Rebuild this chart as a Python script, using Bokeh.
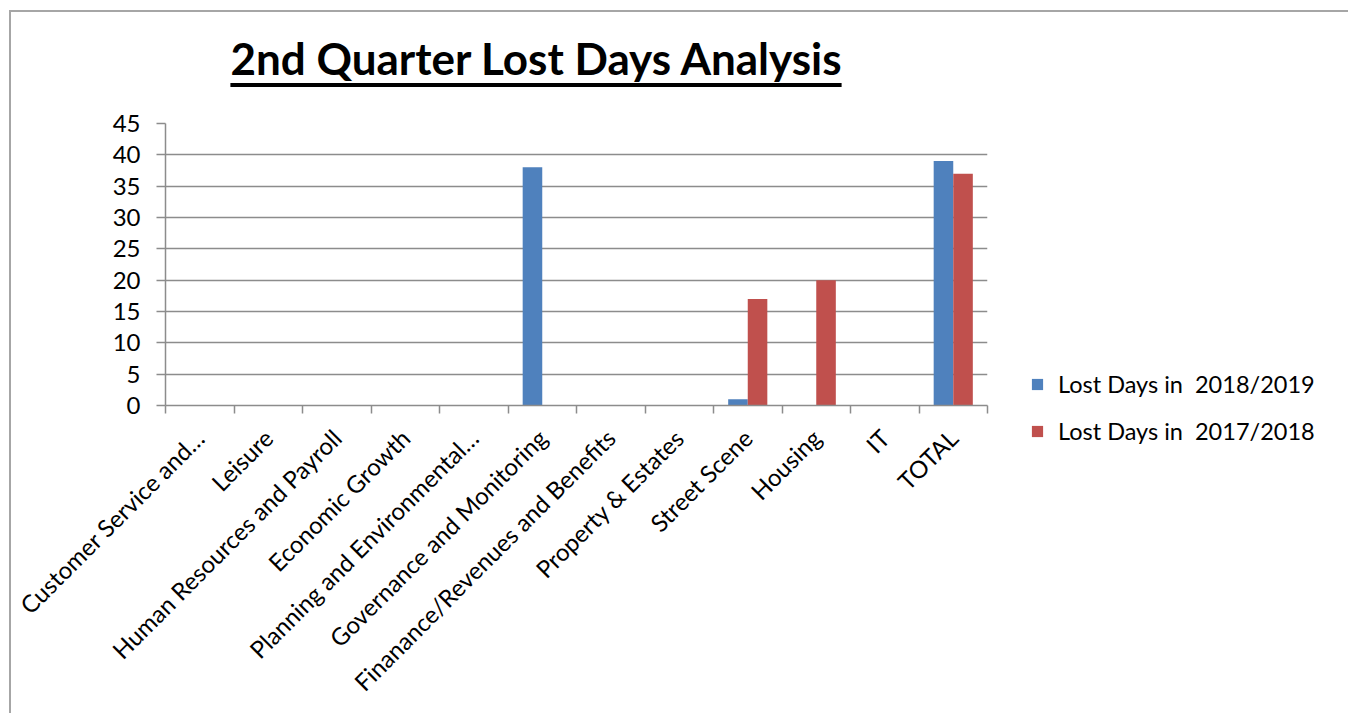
from math import pi
from bokeh.plotting import figure
from bokeh.models import (ColumnDataSource, Range1d, LinearAxis, FixedTicker, Legend, LegendItem, Div)
from bokeh.transform import dodge
from bokeh.layouts import column
from bokeh.embed import file_html
from bokeh.resources import INLINE

categories = ["Customer Service and\u2026", "Leisure", "Human Resources and Payroll",
              "Economic Growth", "Planning and Environmental\u2026", "Governance and Monitoring",
              "Finanance/Revenues and Benefits", "Property & Estates", "Street Scene",
              "Housing", "IT", "TOTAL"]
lost_2018_2019 = [0, 0, 0, 0, 0, 38, 0, 0, 1, 0, 0, 39]
lost_2017_2018 = [0, 0, 0, 0, 0, 0, 0, 0, 17, 20, 0, 37]
series_names = ["Lost Days in  2018/2019", "Lost Days in  2017/2018"]
y_ticks = [0, 5, 10, 15, 20, 25, 30, 35, 40, 45]
title_text = "2nd Quarter Lost Days Analysis"

FONT = "Lato"
GRAY = "#8c8c8c"
BLUE = "#4F81BD"
RED = "#C0504D"
FS = "24px"

n = len(categories)
centers = [i + 0.5 for i in range(n)]
src = ColumnDataSource(dict(x=centers, cat=categories, a=lost_2018_2019, b=lost_2017_2018))

p = figure(x_range=Range1d(0, n), y_range=Range1d(0, 45),
           frame_width=822, frame_height=282, output_backend="svg", toolbar_location=None,
           x_axis_location=None, min_border_left=154, min_border_right=30,
           min_border_top=16, min_border_bottom=312)
p.outline_line_color = None
p.background_fill_color = "white"
p.border_fill_color = "white"
p.xgrid.visible = False
p.ygrid.grid_line_color = GRAY
p.ygrid.grid_line_width = 1.5
p.ygrid.ticker = FixedTicker(ticks=y_ticks)

bw = 1 / 3.5
r1 = p.vbar(x=dodge("x", -bw / 2), top="a", width=bw, source=src,
            fill_color=BLUE, line_color=None)
r2 = p.vbar(x=dodge("x", bw / 2), top="b", width=bw, source=src,
            fill_color=RED, line_color=None)

# y axis
ya = p.yaxis[0]
ya.ticker = FixedTicker(ticks=y_ticks)
ya.axis_line_color = GRAY
ya.axis_line_width = 1.5
ya.major_tick_line_color = GRAY
ya.major_tick_line_width = 1.5
ya.major_tick_out = 9
ya.major_tick_in = 0
ya.minor_tick_line_color = None
ya.major_label_text_font = FONT
ya.major_label_text_font_size = FS
ya.major_label_text_color = "black"
ya.major_label_standoff = 16

# x tick axis at category boundaries (ticks only)
ta = LinearAxis(ticker=FixedTicker(ticks=list(range(n + 1))))
ta.axis_line_color = GRAY
ta.axis_line_width = 1.5
ta.major_tick_line_color = GRAY
ta.major_tick_line_width = 1.5
ta.major_tick_out = 8
ta.major_tick_in = 0
ta.minor_tick_line_color = None
ta.major_label_text_font_size = "0px"
ta.major_label_text_color = None
ta.major_label_standoff = 0
p.add_layout(ta, "below")

# category labels at category centres
ca = LinearAxis(ticker=FixedTicker(ticks=centers))
ca.major_label_overrides = {c: lab for c, lab in zip(centers, categories)}
ca.axis_line_color = None
ca.major_tick_line_color = None
ca.minor_tick_line_color = None
ca.major_label_orientation = pi / 4
ca.major_label_text_font = FONT
ca.major_label_text_font_size = FS
ca.major_label_text_color = "black"
ca.major_label_standoff = 14
p.add_layout(ca, "below")

legend = Legend(items=[LegendItem(label=series_names[0], renderers=[r1]),
                       LegendItem(label=series_names[1], renderers=[r2])],
                location=(43, -41), orientation="vertical")
legend.padding = 0
legend.margin = 0
legend.border_line_color = None
legend.background_fill_alpha = 0
legend.glyph_width = 14
legend.glyph_height = 14
legend.label_height = 30
legend.label_standoff = 14
legend.spacing = 17
legend.label_text_font = FONT
legend.label_text_font_size = "23.5px"
legend.label_text_color = "black"
p.add_layout(legend, "right")

title_div = Div(
    text=('<div style="width:1050px;text-align:center;font-family:Lato;font-weight:bold;font-size:44px;'
          'color:black;padding-top:24px;line-height:1;text-decoration:underline;'
          'text-decoration-thickness:3.5px;text-underline-offset:8px;">' + title_text + '</div>'),
    width=1050, height=95, margin=(0, 0, 0, 0))

layout = column(title_div, p, styles={"border": "2px solid #a6a6a6", "background": "white",
                                      "margin": "10px 0 0 9px"})

open("out.html", "w").write(file_html(layout, INLINE))
